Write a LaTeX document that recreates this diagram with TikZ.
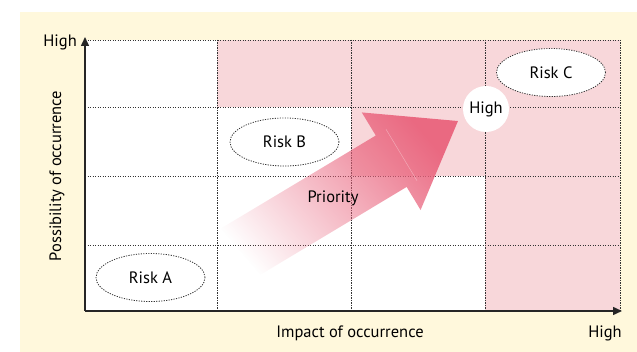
\documentclass[tikz,border=0pt]{standalone}
\usepackage{fontspec}
\setmainfont{PT Sans}
\usetikzlibrary{arrows.meta,positioning,fadings,shapes.geometric}
\definecolor{creambg}{HTML}{FFF8DC}
\definecolor{riskpink}{HTML}{F8D7DA}
\definecolor{arrowpink}{HTML}{E9607A}
\definecolor{gridgray}{HTML}{333333}
\tikzfading[name=priorityfade,left color=transparent!100,middle color=transparent!65,right color=transparent!8]
\tikzset{
  gridline/.style={draw=gridgray,line width=0.8pt,dash pattern=on 1.2pt off 1.3pt},
  riskellipse/.style={ellipse,draw=gridgray,line width=0.8pt,dash pattern=on 1.2pt off 1.3pt,
    fill=white,minimum width=109pt,minimum height=48pt,inner sep=0pt,font=\fontsize{16.5}{19}\selectfont},
  highdot/.style={circle,fill=white,minimum size=46pt,inner sep=0pt,font=\fontsize{16.5}{19}\selectfont},
  axisarrow/.style={-{Triangle[length=9pt,width=8pt]},line width=1.5pt,draw=black!85},
  axislabel/.style={font=\fontsize{16.5}{19}\selectfont,inner sep=0pt}
}

\begin{document}
\begin{tikzpicture}[x=1pt,y=-1pt]
  \useasboundingbox (0,0) rectangle (637,352);
  % background and matrix cells
  \fill[creambg] (20,12) rectangle (637,352);
  \fill[white] (85,40) rectangle (620,311);
  \fill[riskpink] (217,40) rectangle (620,107);
  \fill[riskpink] (351,107) rectangle (620,176);
  \fill[riskpink] (485,176) rectangle (620,311);
  \foreach \x in {217,351,485,620}
    \draw[gridline] (\x,40) -- (\x,311);
  \foreach \y in {40,107,176,245}
    \draw[gridline] (85,\y) -- (620,\y);
  % priority arrow
  \fill[arrowpink,path fading=priorityfade,fading angle=31]
    (214.5,232.3) -- (375.8,135.5) -- (361.8,112.4) -- (458,121)
    -- (420.6,210) -- (406.7,186.9) -- (245.5,283.7) -- cycle;
  \draw[white,opacity=0.35,line width=0.5pt] (386,129.3) -- (417,180.7);
  \node[axislabel] (priority) at (333,198) {Priority};
  % risks
  \node[riskellipse] (riskA) at (150.5,277.5) {Risk A};
  \node[riskellipse] (riskB) at (284.5,142) {Risk B};
  \node[riskellipse] (riskC) at (551,72.5) {Risk C};
  \node[highdot] (highpt) at (486,109) {High};
  % axes
  \coordinate (origin) at (85,311);
  \coordinate (ytop) at (85,37);
  \coordinate (xend) at (622,311);
  \draw[axisarrow] (origin) -- (ytop);
  \draw[axisarrow] (origin) -- (xend);
  \node[axislabel,anchor=east] (yhigh) at (77,42) {High};
  \node[axislabel] (xhigh) at (605,333) {High};
  \node[axislabel] (xtitle) at (350,333) {Impact of occurrence};
  \node[axislabel,rotate=90] (ytitle) at (57,176) {Possibility of occurrence};
\end{tikzpicture}
\end{document}
